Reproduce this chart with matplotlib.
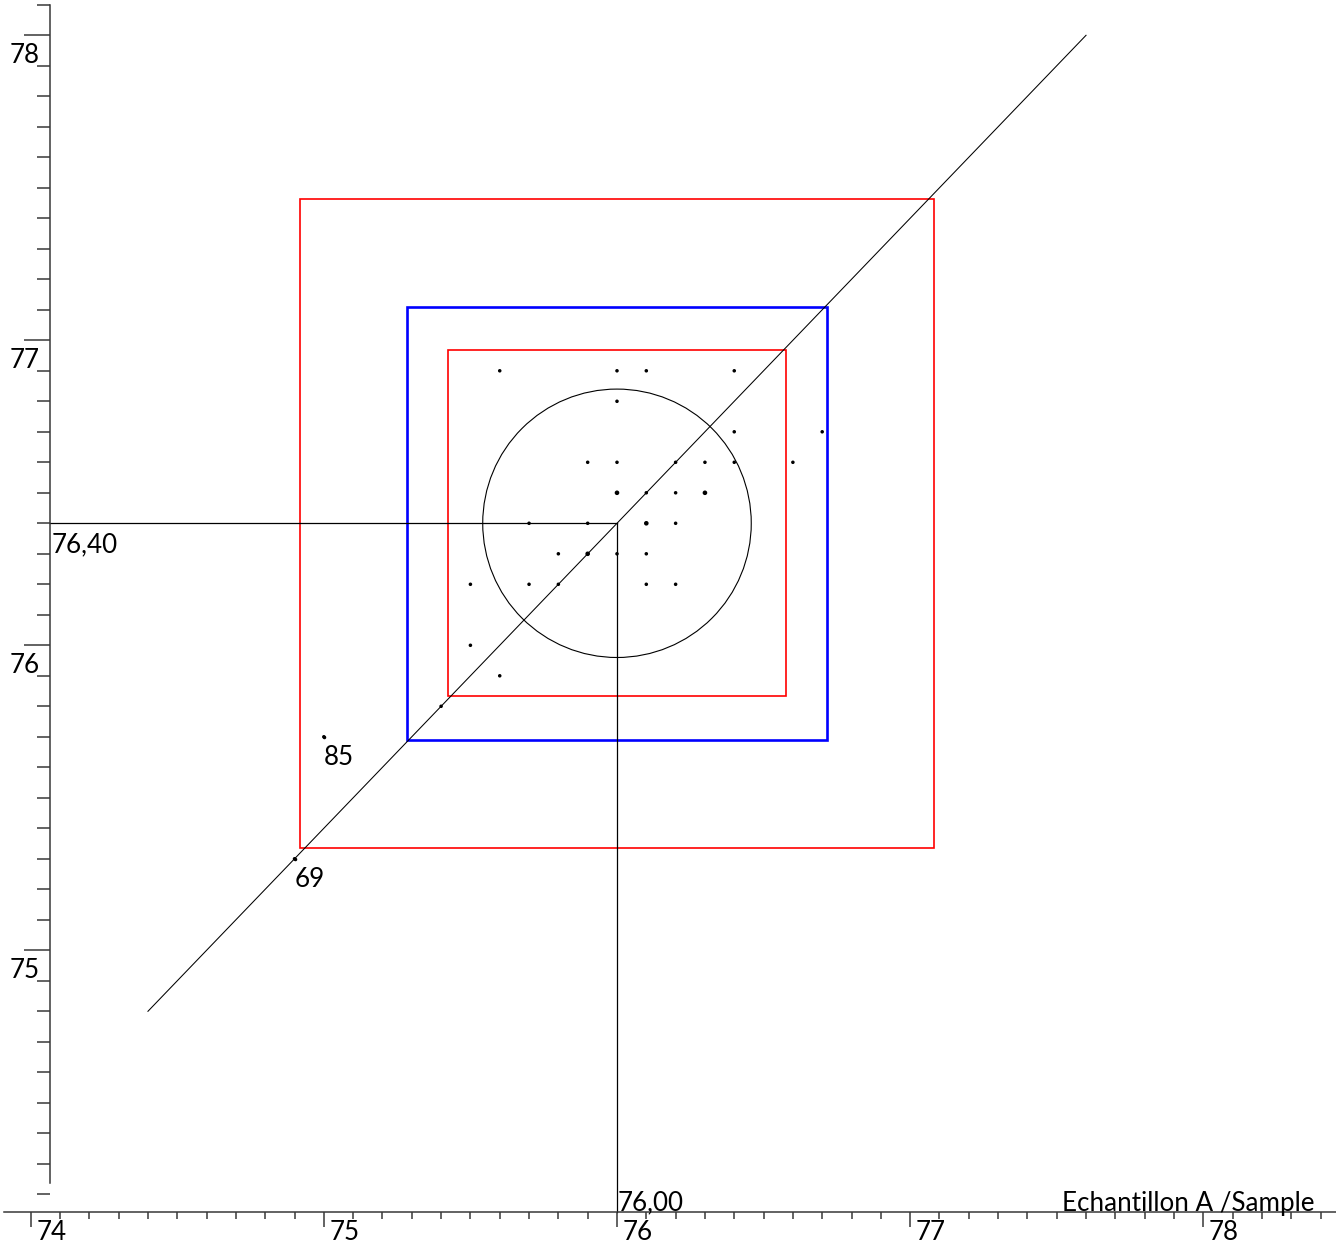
import numpy as np
import pandas as pd
import matplotlib
matplotlib.use('Agg')
import matplotlib.pyplot as plt
from matplotlib.patches import Rectangle, Ellipse
from matplotlib.ticker import FixedLocator

plt.rcParams['font.family'] = ['Lato', 'DejaVu Sans']

# Youden plot: sample A on x, sample B on y
target_a = 76.00
target_b = 76.40

# half widths of the limit boxes (A, B)
outer_half = (1.08, 1.063)
blue_half = (0.718, 0.710)
inner_half = (0.576, 0.567)
circle_radius = (0.458, 0.440)

# lab results (a repeated pair means two labs reported the same values)
sample_a = [75.6, 76.0, 76.1, 76.4,
            76.0,
            76.4, 76.7,
            75.9, 76.0, 76.2, 76.3, 76.4, 76.6,
            76.0, 76.0, 76.1, 76.2, 76.3, 76.3,
            75.7, 75.9, 76.1, 76.1, 76.2,
            75.8, 75.9, 75.9, 76.0, 76.1,
            75.5, 75.7, 75.8, 76.1, 76.2,
            75.5, 75.6, 75.4, 75.0, 74.9]
sample_b = [76.9, 76.9, 76.9, 76.9,
            76.8,
            76.7, 76.7,
            76.6, 76.6, 76.6, 76.6, 76.6, 76.6,
            76.5, 76.5, 76.5, 76.5, 76.5, 76.5,
            76.4, 76.4, 76.4, 76.4, 76.4,
            76.3, 76.3, 76.3, 76.3, 76.3,
            76.2, 76.2, 76.2, 76.2, 76.2,
            76.0, 75.9, 75.8, 75.7, 75.3]

# labs flagged on the chart
flagged_labs = ['85', '69']
flagged_a = [75.0, 74.9]
flagged_b = [75.7, 75.3]

diag_a = [74.4, 77.6]   # y = x + 0.4 line

x_major = [74, 75, 76, 77, 78]
y_major = [75, 76, 77, 78]

df = pd.DataFrame({'a': sample_a, 'b': sample_b})
pts = df.groupby(['a', 'b']).size().reset_index(name='n')

fig = plt.figure(figsize=(13.36, 12.43), dpi=100)
ax = fig.add_axes([0, 0, 1, 1])
ax.set_xlim(73.8953, 78.4527)
ax.set_ylim(74.0403, 78.1157)

x_axis_at = 74.143
y_axis_at = 74.0658
axis_col = '#383838'

for side in ['top', 'right']:
    ax.spines[side].set_visible(False)
ax.spines['left'].set_position(('data', y_axis_at))
ax.spines['bottom'].set_position(('data', x_axis_at))
ax.spines['left'].set_bounds(74.236, 78.1)
ax.spines['bottom'].set_bounds(73.909, 78.4527)
for side in ['left', 'bottom']:
    ax.spines[side].set_color(axis_col)
    ax.spines[side].set_linewidth(1.1)

ax.xaxis.set_major_locator(FixedLocator(x_major))
ax.xaxis.set_minor_locator(FixedLocator(np.round(np.arange(74.0, 78.45, 0.1), 1)))
ax.yaxis.set_major_locator(FixedLocator(y_major))
ax.yaxis.set_minor_locator(FixedLocator(np.round(np.arange(74.2, 78.15, 0.1), 1)))
ax.tick_params(axis='x', which='major', length=10.8, width=1.1, color=axis_col,
               direction='out', labelbottom=False)
ax.tick_params(axis='x', which='minor', length=5, width=1.1, color=axis_col, direction='out')
ax.tick_params(axis='y', which='major', length=18.7, width=1.1, color=axis_col,
               direction='out', labelleft=False)
ax.tick_params(axis='y', which='minor', length=9.4, width=1.1, color=axis_col, direction='out')

fs = 18.7
for v in x_major:
    ax.annotate(str(v), xy=(v, x_axis_at), xytext=(20.5, -28), textcoords='offset pixels',
                ha='center', va='baseline', fontsize=fs)
for v in y_major:
    ax.annotate(str(v), xy=(y_axis_at, v), xytext=(-10.5, -28), textcoords='offset pixels',
                ha='right', va='baseline', fontsize=fs)

# limit boxes
for half, col, lw in [(outer_half, 'red', 1.2), (blue_half, 'blue', 1.9), (inner_half, 'red', 1.2)]:
    ax.add_patch(Rectangle((target_a - half[0], target_b - half[1]), 2 * half[0], 2 * half[1],
                           fill=False, ec=col, lw=lw))

ax.add_patch(Ellipse((target_a, target_b), 2 * circle_radius[0], 2 * circle_radius[1],
                     fill=False, ec='black', lw=0.8))

# target lines
ax.plot([y_axis_at, target_a], [target_b, target_b], color='black', lw=0.9)
ax.plot([target_a, target_a], [x_axis_at, target_b], color='black', lw=0.9)
ax.plot(diag_a, [v + (target_b - target_a) for v in diag_a], color='black', lw=0.75)

ax.annotate(f'{target_b:.2f}'.replace('.', ','), xy=(y_axis_at, target_b), xytext=(2, -29),
            textcoords='offset pixels', ha='left', va='baseline', fontsize=fs)
ax.annotate(f'{target_a:.2f}'.replace('.', ','), xy=(target_a, x_axis_at), xytext=(1, 1),
            textcoords='offset pixels', ha='left', va='baseline', fontsize=fs)
ax.annotate('Echantillon A /Sample', xy=(77.518, x_axis_at), xytext=(0, 1),
            textcoords='offset pixels', ha='left', va='baseline', fontsize=fs)

# lab points
ax.scatter(pts['a'], pts['b'], s=np.where(pts['n'] > 1, 11, 6.5), color='black',
           linewidths=0, zorder=3)
ax.scatter(flagged_a, flagged_b, s=6.5, color='black', linewidths=0, zorder=3)
for lab, a, b in zip(flagged_labs, flagged_a, flagged_b):
    ax.annotate(lab, xy=(a, b), xytext=(0, -28), textcoords='offset pixels',
                ha='left', va='baseline', fontsize=fs)

fig.savefig('out.png', dpi=100)
